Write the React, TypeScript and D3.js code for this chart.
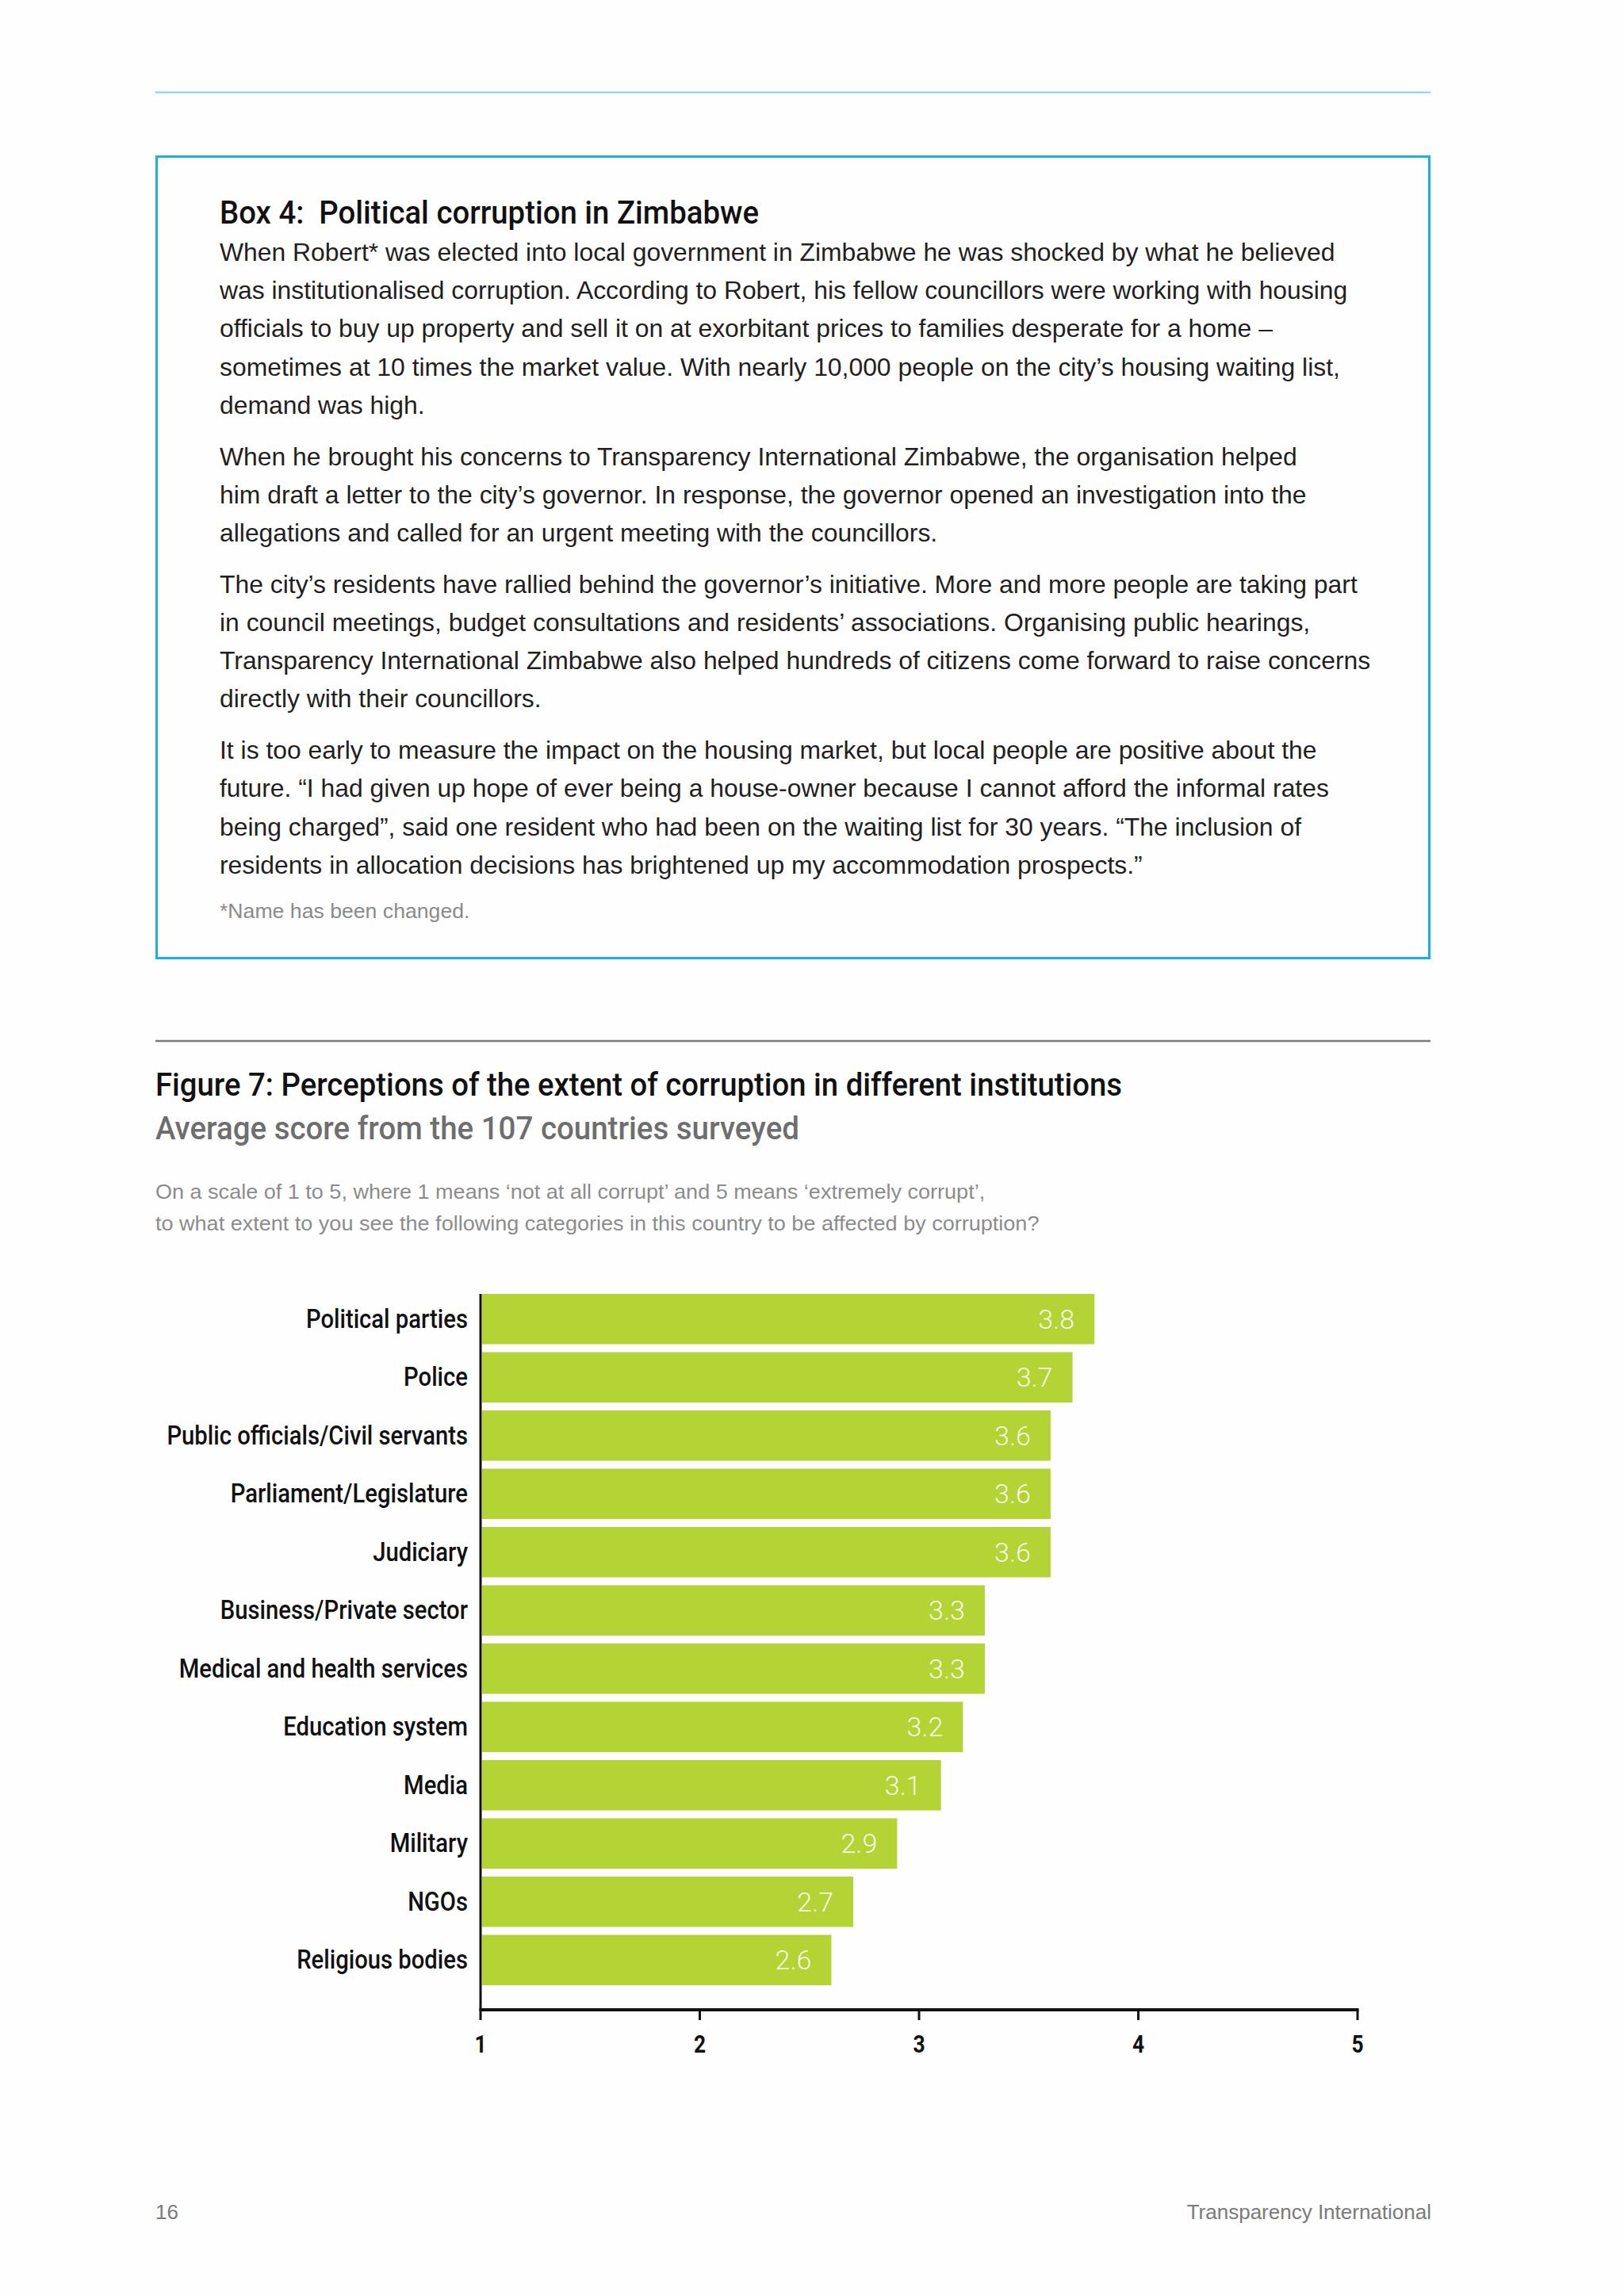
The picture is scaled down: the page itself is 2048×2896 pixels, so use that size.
import React from "react";
import * as d3 from "d3";

const categories = [
  "Political parties",
  "Police",
  "Public officials/Civil servants",
  "Parliament/Legislature",
  "Judiciary",
  "Business/Private sector",
  "Medical and health services",
  "Education system",
  "Media",
  "Military",
  "NGOs",
  "Religious bodies",
];
const scores = [3.8, 3.7, 3.6, 3.6, 3.6, 3.3, 3.3, 3.2, 3.1, 2.9, 2.7, 2.6];
const axisTicks = [1, 2, 3, 4, 5];

const boxTitle = "Box 4:  Political corruption in Zimbabwe";
const paragraphs = [
  [
    "When Robert* was elected into local government in Zimbabwe he was shocked by what he believed",
    "was institutionalised corruption. According to Robert, his fellow councillors were working with housing",
    "officials to buy up property and sell it on at exorbitant prices to families desperate for a home –",
    "sometimes at 10 times the market value. With nearly 10,000 people on the city’s housing waiting list,",
    "demand was high.",
  ],
  [
    "When he brought his concerns to Transparency International Zimbabwe, the organisation helped",
    "him draft a letter to the city’s governor. In response, the governor opened an investigation into the",
    "allegations and called for an urgent meeting with the councillors.",
  ],
  [
    "The city’s residents have rallied behind the governor’s initiative. More and more people are taking part",
    "in council meetings, budget consultations and residents’ associations. Organising public hearings,",
    "Transparency International Zimbabwe also helped hundreds of citizens come forward to raise concerns",
    "directly with their councillors.",
  ],
  [
    "It is too early to measure the impact on the housing market, but local people are positive about the",
    "future. “I had given up hope of ever being a house-owner because I cannot afford the informal rates",
    "being charged”, said one resident who had been on the waiting list for 30 years. “The inclusion of",
    "residents in allocation decisions has brightened up my accommodation prospects.”",
  ],
];
const footnote = "*Name has been changed.";
const figTitle = "Figure 7: Perceptions of the extent of corruption in different institutions";
const figSubtitle = "Average score from the 107 countries surveyed";
const questionLines = [
  "On a scale of 1 to 5, where 1 means ‘not at all corrupt’ and 5 means ‘extremely corrupt’,",
  "to what extent to you see the following categories in this country to be affected by corruption?",
];
const pageNumber = "16";
const footerRight = "Transparency International";

const COND = "Roboto, 'Liberation Sans', Arial, sans-serif";
const BODY = "'Liberation Sans', Arial, sans-serif";
const LIGHT = "Roboto, 'Liberation Sans', sans-serif";
const BAR = "#b4d335";

// horizontal squeeze around an anchor x
const sx = (x0: number, k: number) => `translate(${x0},0) scale(${k},1) translate(${-x0},0)`;

export default function App() {
  const W = 2048;
  const H = 2896;
  const x = d3.scaleLinear().domain([1, 5]).range([606, 1712]);
  const y = d3
    .scaleBand<string>()
    .domain(categories)
    .range([1632, 2504])
    .paddingInner(0.136)
    .paddingOuter(0);
  const axisY = 2535;

  const lineH = 48.2;
  const paraGap = 64.8;
  let cursor = 329;
  const bodyLines: { t: string; y: number }[] = [];
  paragraphs.forEach((p, pi) => {
    if (pi > 0) cursor += paraGap - lineH;
    p.forEach((t) => {
      bodyLines.push({ t, y: cursor });
      cursor += lineH;
    });
  });

  return (
    <svg
      width={W}
      height={H}
      viewBox={`0 0 ${W} ${H}`}
      style={{ position: "absolute", left: 0, top: 0, background: "#fefefe" }}
    >
      <rect x={0} y={0} width={W} height={H} fill="#fefefe" />
      {/* top rule */}
      <line x1={196} x2={1804} y1={116.5} y2={116.5} stroke="#7fd0ec" strokeWidth={2} />

      {/* box */}
      <rect x={197.5} y={197.5} width={1605} height={1011} fill="none" stroke="#1cafe0" strokeWidth={3} />
      <text
        x={277}
        y={282}
        fontFamily={COND}
        fontWeight={500}
        fontSize={40.5}
        fill="#111"
        textLength={680}
        lengthAdjust="spacingAndGlyphs"
        style={{ whiteSpace: "pre" }}
      >
        {boxTitle}
      </text>
      <g transform={sx(277, 1.045)}>
        {bodyLines.map((l, i) => (
          <text key={i} x={277} y={l.y} fontFamily={BODY} fontSize={30.5} fill="#231f20">
            {l.t}
          </text>
        ))}
        <text x={277} y={1158} fontFamily={BODY} fontSize={25} fill="#8a8a8a" transform={sx(277, 1.02)}>
          {footnote}
        </text>
      </g>

      {/* figure heading */}
      <line x1={196} x2={1804} y1={1313} y2={1313} stroke="#7a7a7a" strokeWidth={2.5} />
      <text
        x={196}
        y={1382}
        fontFamily={COND}
        fontWeight={500}
        fontSize={40.5}
        fill="#111"
        textLength={1219}
        lengthAdjust="spacingAndGlyphs"
      >
        {figTitle}
      </text>
      <text
        x={196}
        y={1437}
        fontFamily={COND}
        fontWeight={500}
        fontSize={40}
        fill="#6e6e6e"
        textLength={812}
        lengthAdjust="spacingAndGlyphs"
      >
        {figSubtitle}
      </text>
      <g transform={sx(196, 1.04)}>
        {questionLines.map((t, i) => (
          <text key={i} x={196} y={1512 + i * 40.5} fontFamily={BODY} fontSize={26} fill="#8c8c8c">
            {t}
          </text>
        ))}
      </g>

      {/* bars */}
      {categories.map((c, i) => (
        <g key={c}>
          <rect
            x={x(1) + 2}
            y={y(c)!}
            width={x(scores[i]) - x(1) - 2}
            height={y.bandwidth()}
            fill={BAR}
          />
          <text
            x={x(scores[i]) - 25}
            y={y(c)! + y.bandwidth() / 2 + 12}
            textAnchor="end"
            fontFamily={LIGHT}
            fontWeight={300}
            fontSize={34}
            fill="#f6f9e8"
          >
            {scores[i].toFixed(1)}
          </text>
          <text
            x={590}
            y={y(c)! + y.bandwidth() / 2 + 11}
            textAnchor="end"
            fontFamily={COND}
            fontWeight={500}
            fontSize={32.5}
            fill="#111"
            transform={sx(590, 0.9)}
          >
            {c}
          </text>
        </g>
      ))}

      {/* axes */}
      <line x1={x(1)} x2={x(1)} y1={1632} y2={axisY} stroke="#111" strokeWidth={3} />
      <line x1={x(1) - 1.5} x2={x(5) + 1.5} y1={axisY} y2={axisY} stroke="#111" strokeWidth={4} />
      {axisTicks.map((t) => (
        <g key={t}>
          <line x1={x(t)} x2={x(t)} y1={axisY} y2={axisY + 13} stroke="#111" strokeWidth={3} />
          <text
            x={x(t)}
            y={2589}
            textAnchor="middle"
            fontFamily={COND}
            fontWeight={700}
            fontSize={31}
            fill="#111"
            transform={sx(x(t), 0.85)}
          >
            {t}
          </text>
        </g>
      ))}

      {/* footer */}
      <text x={196} y={2799} fontFamily={BODY} fontSize={26} fill="#7a7a7a">
        {pageNumber}
      </text>
      <text x={1805} y={2799} textAnchor="end" fontFamily={BODY} fontSize={26} fill="#7a7a7a">
        {footerRight}
      </text>
    </svg>
  );
}
